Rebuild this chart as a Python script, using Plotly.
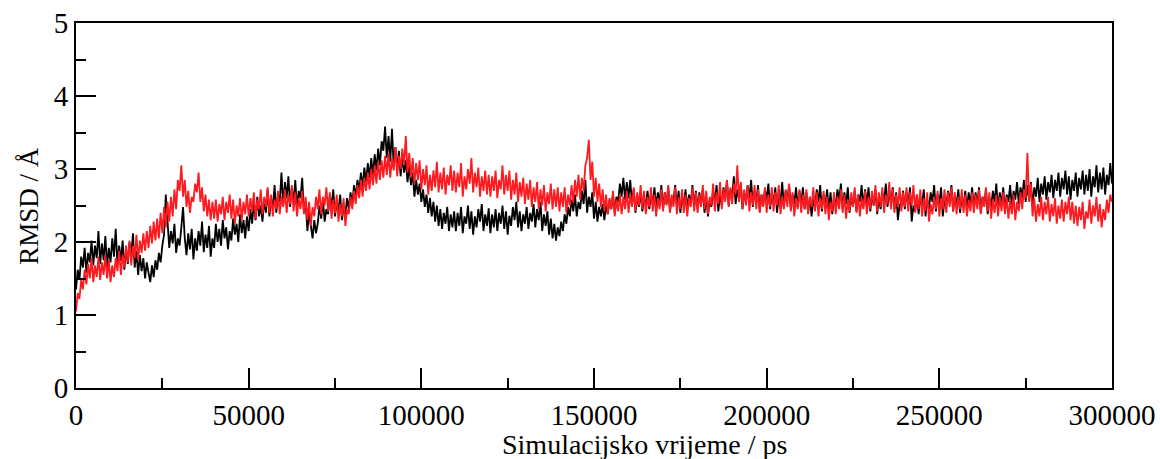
import plotly.graph_objects as go

time_step_ps = 500

black_rmsd = [
    1.35, 1.62, 1.48, 1.80, 1.65, 1.92, 1.58, 1.85, 1.72, 2.02, 1.68, 1.95, 1.78, 2.15, 1.70, 1.98, 1.75, 2.08, 1.66, 1.92,
    1.72, 2.05, 1.80, 2.18, 1.68, 1.95, 1.74, 2.02, 1.62, 1.90, 1.70, 2.00, 1.82, 2.12, 1.65, 1.88, 1.55, 1.82, 1.60, 1.78,
    1.50, 1.72, 1.58, 1.45, 1.68, 1.52, 1.75, 1.62, 1.85, 1.72, 1.95, 2.10, 2.65, 2.20, 1.92, 2.15, 1.98, 2.25, 1.85, 2.05,
    1.95, 2.20, 2.48, 2.05, 1.82, 2.12, 1.90, 2.18, 1.76, 2.05, 1.88, 2.15, 1.95, 2.28, 1.86, 2.10, 1.92, 2.22, 1.80, 2.05,
    1.92, 2.25, 2.00, 2.18, 1.95, 2.30, 2.05, 2.20, 1.90, 2.15, 2.02, 2.32, 2.10, 2.25, 2.00, 2.38, 2.12, 2.30, 2.05, 2.35,
    2.15, 2.45, 2.25, 2.55, 2.30, 2.62, 2.35, 2.50, 2.28, 2.58, 2.40, 2.72, 2.35, 2.60, 2.45, 2.78, 2.40, 2.65, 2.55, 2.95,
    2.50, 2.82, 2.60, 2.90, 2.48, 2.75, 2.55, 2.85, 2.45, 2.70, 2.60, 2.88, 2.42, 2.55, 2.15, 2.40, 2.20, 2.05, 2.30, 2.12,
    2.25, 2.50, 2.32, 2.58, 2.28, 2.45, 2.38, 2.62, 2.50, 2.72, 2.35, 2.55, 2.42, 2.65, 2.30, 2.48, 2.38, 2.60, 2.45, 2.68,
    2.52, 2.78, 2.62, 2.85, 2.70, 2.95, 2.75, 3.02, 2.82, 3.08, 2.88, 3.15, 2.92, 3.20, 2.98, 3.28, 3.05, 3.38, 3.25, 3.58,
    3.15, 3.45, 3.10, 3.55, 3.02, 3.30, 2.98, 3.25, 2.90, 3.18, 2.95, 3.12, 2.82, 3.05, 2.78, 2.95, 2.62, 2.85, 2.65, 2.80,
    2.55, 2.72, 2.48, 2.65, 2.40, 2.60, 2.35, 2.55, 2.28, 2.50, 2.22, 2.45, 2.18, 2.40, 2.25, 2.48, 2.15, 2.38, 2.20, 2.42,
    2.15, 2.40, 2.22, 2.48, 2.12, 2.35, 2.25, 2.50, 2.18, 2.42, 2.10, 2.35, 2.20, 2.45, 2.28, 2.52, 2.15, 2.38, 2.22, 2.46,
    2.12, 2.38, 2.20, 2.45, 2.15, 2.40, 2.25, 2.50, 2.18, 2.42, 2.10, 2.36, 2.22, 2.48, 2.30, 2.55, 2.20, 2.42, 2.15, 2.38,
    2.25, 2.48, 2.18, 2.40, 2.28, 2.52, 2.20, 2.45, 2.30, 2.55, 2.15, 2.38, 2.22, 2.42, 2.10, 2.32, 2.05, 2.25, 2.02, 2.20,
    2.08, 2.28, 2.15, 2.38, 2.25, 2.48, 2.35, 2.58, 2.42, 2.65, 2.35, 2.55, 2.45, 2.70, 2.52, 2.85, 2.40, 2.62, 2.48, 2.68,
    2.32, 2.55, 2.28, 2.48, 2.35, 2.52, 2.30, 2.50, 2.38, 2.58, 2.45, 2.65, 2.40, 2.62, 2.55, 2.80, 2.62, 2.88, 2.58, 2.82,
    2.60, 2.85, 2.52, 2.72, 2.40, 2.62, 2.48, 2.68, 2.42, 2.60, 2.50, 2.70, 2.45, 2.65, 2.52, 2.75, 2.48, 2.68, 2.55, 2.78,
    2.45, 2.68, 2.52, 2.75, 2.42, 2.62, 2.55, 2.78, 2.48, 2.70, 2.40, 2.62, 2.50, 2.72, 2.45, 2.65, 2.52, 2.78, 2.48, 2.70,
    2.45, 2.68, 2.52, 2.72, 2.40, 2.62, 2.35, 2.58, 2.48, 2.70, 2.55, 2.78, 2.42, 2.65, 2.50, 2.75, 2.58, 2.85, 2.50, 2.72,
    2.62, 2.90, 2.52, 2.72, 2.58, 2.80, 2.45, 2.68, 2.55, 2.78, 2.60, 2.85, 2.48, 2.70, 2.55, 2.78, 2.42, 2.65, 2.50, 2.72,
    2.58, 2.80, 2.45, 2.68, 2.52, 2.75, 2.40, 2.62, 2.55, 2.82, 2.48, 2.70, 2.58, 2.78, 2.45, 2.65, 2.52, 2.75, 2.48, 2.70,
    2.52, 2.75, 2.45, 2.68, 2.40, 2.62, 2.35, 2.58, 2.48, 2.72, 2.55, 2.78, 2.42, 2.65, 2.50, 2.72, 2.45, 2.68, 2.38, 2.60,
    2.50, 2.72, 2.58, 2.80, 2.45, 2.68, 2.52, 2.75, 2.40, 2.62, 2.48, 2.70, 2.42, 2.65, 2.55, 2.78, 2.48, 2.72, 2.52, 2.75,
    2.42, 2.65, 2.50, 2.72, 2.38, 2.60, 2.45, 2.68, 2.55, 2.80, 2.48, 2.70, 2.52, 2.75, 2.45, 2.68, 2.30, 2.52, 2.48, 2.70,
    2.45, 2.68, 2.52, 2.75, 2.28, 2.50, 2.42, 2.65, 2.38, 2.60, 2.50, 2.72, 2.35, 2.58, 2.45, 2.68, 2.55, 2.78, 2.42, 2.65,
    2.52, 2.75, 2.35, 2.58, 2.48, 2.70, 2.55, 2.78, 2.42, 2.65, 2.50, 2.72, 2.40, 2.62, 2.48, 2.70, 2.45, 2.68, 2.52, 2.75,
    2.45, 2.68, 2.52, 2.75, 2.40, 2.62, 2.50, 2.72, 2.38, 2.60, 2.48, 2.70, 2.55, 2.80, 2.45, 2.68, 2.52, 2.75, 2.42, 2.65,
    2.55, 2.78, 2.48, 2.70, 2.58, 2.82, 2.52, 2.75, 2.60, 2.85, 2.55, 2.78, 2.58, 2.82, 2.50, 2.75, 2.62, 2.88, 2.55, 2.80,
    2.65, 2.90, 2.58, 2.82, 2.68, 2.92, 2.60, 2.85, 2.70, 2.95, 2.62, 2.88, 2.72, 2.98, 2.65, 2.90, 2.58, 2.85, 2.70, 2.95,
    2.62, 2.88, 2.72, 2.98, 2.65, 2.92, 2.70, 3.00, 2.62, 2.90, 2.75, 3.05, 2.68, 2.95, 2.72, 3.02, 2.65, 2.92, 2.78, 3.08, 2.80,
]

red_rmsd = [
    1.05, 1.30, 1.22, 1.48, 1.35, 1.62, 1.42, 1.70, 1.50, 1.78, 1.45, 1.68, 1.52, 1.80, 1.48, 1.72, 1.55, 1.82, 1.50, 1.75,
    1.45, 1.68, 1.52, 1.78, 1.60, 1.88, 1.55, 1.82, 1.65, 1.95, 1.72, 2.02, 1.68, 1.95, 1.78, 2.10, 1.75, 2.02, 1.85, 2.12,
    1.88, 2.15, 1.92, 2.22, 1.98, 2.28, 2.02, 2.32, 2.05, 2.40, 2.12, 2.48, 2.20, 2.55, 2.28, 2.62, 2.35, 2.72, 2.45, 2.85,
    2.70, 3.05, 2.62, 2.85, 2.48, 2.70, 2.40, 2.62, 2.55, 2.80, 2.68, 2.95, 2.55, 2.75, 2.42, 2.65, 2.35, 2.58, 2.30, 2.55,
    2.32, 2.58, 2.28, 2.52, 2.38, 2.62, 2.30, 2.55, 2.40, 2.65, 2.32, 2.58, 2.25, 2.50, 2.35, 2.60, 2.30, 2.55, 2.38, 2.65,
    2.35, 2.60, 2.42, 2.68, 2.32, 2.58, 2.45, 2.72, 2.38, 2.62, 2.48, 2.75, 2.40, 2.65, 2.35, 2.58, 2.45, 2.70, 2.38, 2.62,
    2.48, 2.72, 2.40, 2.65, 2.52, 2.78, 2.42, 2.68, 2.35, 2.60, 2.45, 2.70, 2.38, 2.62, 2.30, 2.55, 2.22, 2.48, 2.35, 2.62,
    2.45, 2.72, 2.38, 2.62, 2.50, 2.75, 2.42, 2.68, 2.32, 2.58, 2.40, 2.65, 2.28, 2.52, 2.35, 2.60, 2.22, 2.45, 2.38, 2.62,
    2.45, 2.70, 2.52, 2.78, 2.60, 2.85, 2.62, 2.88, 2.70, 2.95, 2.72, 3.00, 2.78, 3.05, 2.80, 3.10, 2.85, 3.12, 2.88, 3.18,
    2.92, 3.22, 2.88, 3.15, 2.98, 3.30, 2.90, 3.18, 3.00, 3.28, 3.05, 3.45, 2.95, 3.22, 2.88, 3.15, 2.80, 3.08, 2.85, 3.12,
    2.72, 3.00, 2.78, 3.05, 2.65, 2.92, 2.70, 2.98, 2.75, 3.10, 2.68, 2.95, 2.72, 3.02, 2.65, 2.92, 2.78, 3.05, 2.70, 2.98,
    2.68, 2.95, 2.75, 3.08, 2.62, 2.90, 2.72, 3.00, 2.80, 3.15, 2.68, 2.95, 2.75, 3.02, 2.62, 2.90, 2.70, 2.98, 2.65, 2.92,
    2.62, 2.90, 2.70, 2.98, 2.60, 2.85, 2.72, 3.05, 2.65, 2.92, 2.70, 2.98, 2.58, 2.85, 2.65, 2.95, 2.55, 2.82, 2.62, 2.88,
    2.52, 2.80, 2.58, 2.85, 2.48, 2.75, 2.55, 2.82, 2.45, 2.72, 2.50, 2.78, 2.42, 2.68, 2.52, 2.80, 2.45, 2.72, 2.48, 2.75,
    2.42, 2.68, 2.48, 2.75, 2.40, 2.65, 2.50, 2.78, 2.55, 2.85, 2.62, 2.92, 2.58, 2.88, 2.70, 3.05, 3.15, 3.40, 2.85, 3.10,
    2.62, 2.88, 2.55, 2.80, 2.48, 2.72, 2.42, 2.65, 2.38, 2.60, 2.45, 2.70, 2.35, 2.58, 2.42, 2.65, 2.38, 2.62, 2.45, 2.70,
    2.40, 2.65, 2.48, 2.75, 2.42, 2.68, 2.50, 2.78, 2.45, 2.70, 2.38, 2.62, 2.48, 2.75, 2.42, 2.65, 2.35, 2.60, 2.45, 2.72,
    2.42, 2.68, 2.50, 2.78, 2.40, 2.65, 2.48, 2.75, 2.38, 2.62, 2.45, 2.72, 2.40, 2.65, 2.35, 2.60, 2.48, 2.75, 2.42, 2.68,
    2.40, 2.65, 2.48, 2.78, 2.45, 2.70, 2.38, 2.62, 2.50, 2.80, 2.42, 2.68, 2.52, 2.82, 2.45, 2.72, 2.55, 2.85, 2.48, 2.75,
    2.52, 2.80, 2.65, 3.05, 2.55, 2.82, 2.45, 2.72, 2.50, 2.78, 2.42, 2.68, 2.50, 2.78, 2.45, 2.72, 2.40, 2.65, 2.48, 2.75,
    2.40, 2.65, 2.48, 2.75, 2.42, 2.68, 2.50, 2.78, 2.38, 2.62, 2.45, 2.72, 2.48, 2.80, 2.42, 2.68, 2.35, 2.60, 2.45, 2.72,
    2.40, 2.65, 2.45, 2.72, 2.38, 2.62, 2.48, 2.75, 2.42, 2.68, 2.35, 2.60, 2.45, 2.70, 2.38, 2.62, 2.30, 2.55, 2.42, 2.68,
    2.38, 2.62, 2.45, 2.72, 2.40, 2.65, 2.32, 2.58, 2.42, 2.68, 2.48, 2.75, 2.40, 2.65, 2.35, 2.60, 2.45, 2.70, 2.38, 2.62,
    2.45, 2.70, 2.50, 2.78, 2.42, 2.68, 2.48, 2.75, 2.40, 2.65, 2.52, 2.82, 2.45, 2.72, 2.40, 2.65, 2.48, 2.75, 2.42, 2.68,
    2.48, 2.75, 2.42, 2.68, 2.50, 2.78, 2.40, 2.65, 2.45, 2.72, 2.35, 2.60, 2.42, 2.68, 2.28, 2.52, 2.38, 2.62, 2.45, 2.70,
    2.35, 2.60, 2.45, 2.72, 2.40, 2.68, 2.48, 2.75, 2.42, 2.68, 2.38, 2.62, 2.45, 2.72, 2.40, 2.65, 2.35, 2.58, 2.42, 2.68,
    2.40, 2.65, 2.45, 2.72, 2.38, 2.62, 2.48, 2.75, 2.42, 2.68, 2.32, 2.58, 2.40, 2.65, 2.35, 2.62, 2.42, 2.68, 2.38, 2.62,
    2.32, 2.58, 2.38, 2.65, 2.30, 2.55, 2.42, 2.68, 2.45, 2.72, 2.60, 3.22, 2.55, 2.80, 2.35, 2.60, 2.28, 2.52, 2.35, 2.62,
    2.30, 2.55, 2.38, 2.62, 2.28, 2.52, 2.35, 2.60, 2.25, 2.50, 2.32, 2.58, 2.28, 2.55, 2.38, 2.62, 2.30, 2.55, 2.25, 2.50,
    2.22, 2.48, 2.30, 2.55, 2.18, 2.42, 2.32, 2.58, 2.25, 2.50, 2.35, 2.62, 2.28, 2.52, 2.20, 2.45, 2.30, 2.58, 2.40, 2.65, 2.55,
]

black_time_ps = [i * time_step_ps for i in range(len(black_rmsd))]
red_time_ps = [i * time_step_ps for i in range(len(red_rmsd))]

x_tick_vals = [0, 50000, 100000, 150000, 200000, 250000, 300000]
x_tick_text = ["0", "50000", "100000", "150000", "200000", "250000", "300000"]
y_tick_vals = [0, 1, 2, 3, 4, 5]
y_tick_text = ["0", "1", "2", "3", "4", "5"]

FONT = "Liberation Serif"

fig = go.Figure()
fig.add_trace(go.Scatter(x=black_time_ps, y=black_rmsd, mode="lines",
                         line=dict(color="black", width=1.8), showlegend=False))
fig.add_trace(go.Scatter(x=red_time_ps, y=red_rmsd, mode="lines",
                         line=dict(color="#ff1a1f", width=1.8), showlegend=False))

axis_common = dict(
    showline=True, linecolor="black", linewidth=2, mirror=True,
    ticks="inside", ticklen=20, tickwidth=2, tickcolor="black",
    showgrid=False, zeroline=False, ticklabeloverflow="allow", automargin=False,
    tickfont=dict(family=FONT, size=29, color="black"),
)

fig.update_xaxes(range=[0, 300000], tickvals=x_tick_vals, ticktext=x_tick_text,
                 minor=dict(ticks="inside", ticklen=10, tickwidth=2, tickcolor="black", dtick=25000, tick0=0),
                 **axis_common)
fig.update_yaxes(range=[0, 5], tickvals=y_tick_vals, ticktext=y_tick_text,
                 minor=dict(ticks="inside", ticklen=10, tickwidth=2, tickcolor="black", dtick=0.5, tick0=0),
                 **axis_common)

fig.update_layout(
    width=1160, height=459,
    margin=dict(l=76, r=48, t=23, b=71, autoexpand=False),
    plot_bgcolor="white", paper_bgcolor="white",
    font=dict(family=FONT, color="black"),
    annotations=[
        dict(text="Simulacijsko vrijeme / ps", xref="paper", yref="paper",
             x=0.549, y=-0.156, xanchor="center", yanchor="middle",
             showarrow=False, font=dict(family=FONT, size=28, color="black")),
        dict(text="RMSD / Å", xref="paper", yref="paper",
             x=-0.046, y=0.5, xanchor="center", yanchor="middle", textangle=-90,
             showarrow=False, font=dict(family=FONT, size=27, color="black")),
    ],
)

fig.write_html(
    "out.html",
    config={"displayModeBar": False},
    post_script="document.body.style.margin='0';document.body.style.padding='0';document.body.style.overflow='hidden';",
)
